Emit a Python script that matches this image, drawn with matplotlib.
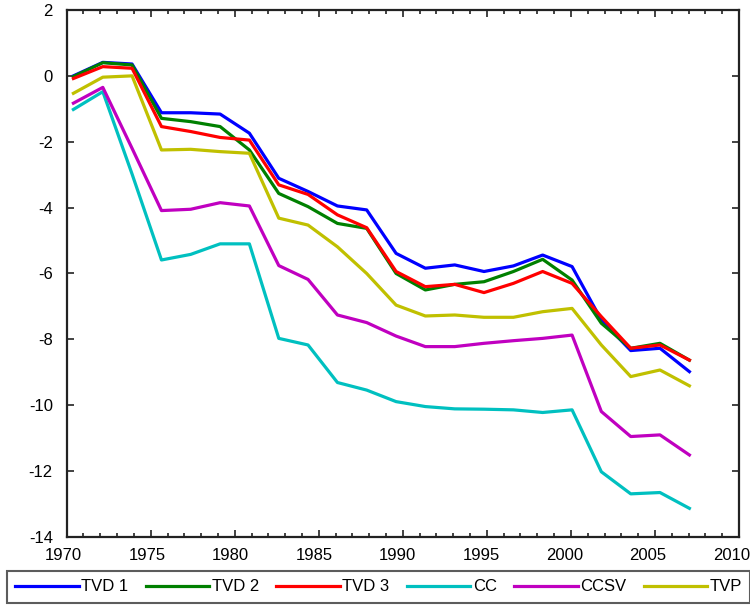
import numpy as np
import matplotlib
matplotlib.use("Agg")
import matplotlib.pyplot as plt
from matplotlib.ticker import MultipleLocator
from matplotlib.transforms import ScaledTranslation

plt.rcParams['font.family'] = ['Liberation Sans', 'DejaVu Sans']
plt.rcParams['axes.unicode_minus'] = False

# sample positions (years)
years = [1970.40, 1972.15, 1973.89, 1975.64, 1977.38, 1979.13, 1980.87, 1982.62,
         1984.36, 1986.11, 1987.85, 1989.60, 1991.34, 1993.09, 1994.83, 1996.58,
         1998.32, 2000.07, 2001.81, 2003.56, 2005.30, 2007.05]

tvd1 = [0.0, 0.41, 0.36, -1.12, -1.12, -1.16, -1.74, -3.11, -3.51, -3.95, -4.07,
        -5.39, -5.84, -5.74, -5.94, -5.77, -5.44, -5.79, -7.41, -8.34, -8.27, -8.98]
tvd2 = [-0.02, 0.40, 0.33, -1.29, -1.39, -1.54, -2.25, -3.57, -3.97, -4.48, -4.63,
        -6.0, -6.5, -6.33, -6.25, -5.94, -5.57, -6.2, -7.51, -8.27, -8.12, -8.63]
tvd3 = [-0.08, 0.28, 0.23, -1.54, -1.69, -1.87, -1.95, -3.31, -3.6, -4.22, -4.61,
        -5.94, -6.4, -6.33, -6.58, -6.3, -5.94, -6.3, -7.31, -8.27, -8.17, -8.63]
cc = [-1.02, -0.48, -2.98, -5.59, -5.42, -5.1, -5.1, -7.97, -8.17, -9.31, -9.54,
      -9.89, -10.04, -10.11, -10.12, -10.14, -10.22, -10.14, -12.02, -12.69, -12.65, -13.13]
ccsv = [-0.83, -0.35, -2.2, -4.09, -4.05, -3.85, -3.95, -5.76, -6.18, -7.26, -7.49,
        -7.9, -8.22, -8.22, -8.12, -8.04, -7.97, -7.87, -10.19, -10.95, -10.9, -11.51]
tvp = [-0.53, -0.04, 0.0, -2.25, -2.23, -2.3, -2.35, -4.32, -4.53, -5.19, -6.0,
       -6.96, -7.29, -7.26, -7.33, -7.33, -7.16, -7.06, -8.17, -9.13, -8.93, -9.41]

series = [("TVD 1", tvd1, "#0000ff"),
          ("TVD 2", tvd2, "#008000"),
          ("TVD 3", tvd3, "#ff0000"),
          ("CC", cc, "#00c0c0"),
          ("CCSV", ccsv, "#c000c0"),
          ("TVP", tvp, "#c0c000")]

xticks = [1970, 1975, 1980, 1985, 1990, 1995, 2000, 2005, 2010]

fig = plt.figure(figsize=(7.5, 6.05), dpi=100)
ax = fig.add_axes([0.0889, 0.1124, 0.8964, 0.8711])

for name, vals, col in series:
    ax.plot(years, vals, color=col, lw=2.3, label=name)

ax.set_xlim(1970, 2010)
ax.set_ylim(-14, 2)
ax.set_xticks(xticks)
ax.xaxis.set_minor_locator(MultipleLocator(1))
ax.yaxis.set_major_locator(MultipleLocator(2))
ax.tick_params(which='both', direction='in', top=True, right=True,
               labelsize=12, width=1.2, color='#222222')
ax.tick_params(axis='x', pad=8)
ax.tick_params(axis='y', pad=10)
ax.tick_params(which='major', length=5)
ax.tick_params(which='minor', length=3)
for sp in ax.spines.values():
    sp.set_linewidth(1.6)
    sp.set_color('#222222')

# labels sit a little left of their ticks in the original
for t, yr in zip(ax.xaxis.get_major_ticks(), xticks):
    dx = (-3 - 4.5 * (yr - 1970) / 40) / 100
    t.label1.set_transform(t.label1.get_transform() +
                           ScaledTranslation(dx, 0, fig.dpi_scale_trans))

leg = fig.legend(loc='upper left', bbox_to_anchor=(7 / 750, 1 - 571 / 605),
                 ncol=6, fontsize=12, frameon=True, fancybox=False,
                 handlelength=3.8, handletextpad=0.15, columnspacing=1.05,
                 borderpad=0.5, borderaxespad=0)
leg.get_frame().set_edgecolor('#333333')
leg.get_frame().set_linewidth(1.5)

fig.savefig("out.png", dpi=100)
